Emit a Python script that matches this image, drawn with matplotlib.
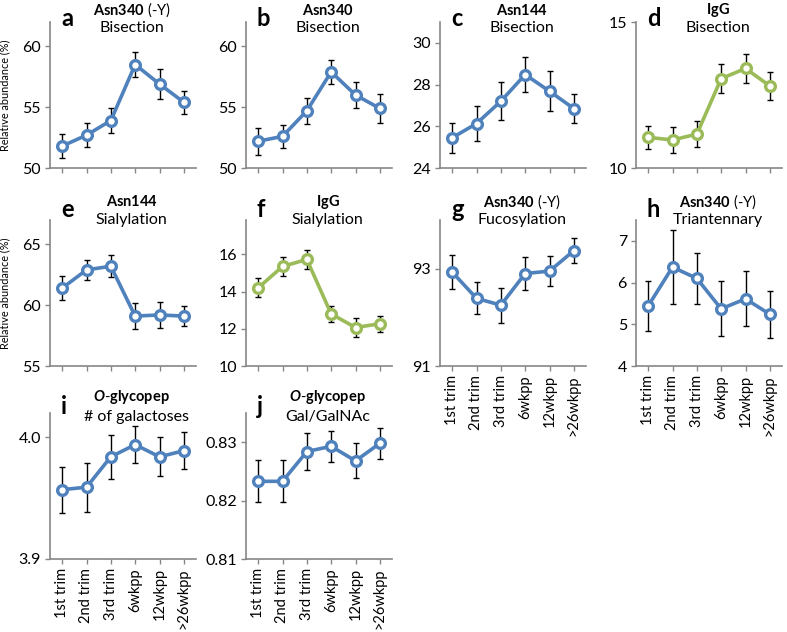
#!/usr/bin/env python3

# %%
# Importing libraries
import numpy as np
from matplotlib import pyplot as plt

# %%
# Data (mean and error bar half-length)
categories = ['1st trim', '2nd trim', '3rd trim', '6wkpp', '12wkpp', '>26wkpp']

a_mean = [51.8, 52.7, 53.9, 58.5, 56.9, 55.4]
a_err = [1.0, 1.0, 1.0, 1.0, 1.2, 0.95]
b_mean = [52.2, 52.6, 54.7, 57.9, 56.0, 54.9]
b_err = [1.1, 0.95, 1.05, 1.0, 1.1, 1.2]
c_mean = [25.45, 26.13, 27.2, 28.48, 27.68, 26.85]
c_err = [0.72, 0.83, 0.9, 0.86, 0.96, 0.7]
d_mean = [11.05, 10.96, 11.16, 13.06, 13.41, 12.81]
d_err = [0.4, 0.46, 0.44, 0.49, 0.49, 0.48]
e_mean = [61.4, 62.9, 63.2, 59.1, 59.2, 59.1]
e_err = [1.0, 0.83, 0.9, 1.05, 1.05, 0.83]
f_mean = [14.2, 15.35, 15.73, 12.8, 12.07, 12.27]
f_err = [0.51, 0.5, 0.52, 0.42, 0.51, 0.44]
g_mean = [92.93, 92.39, 92.25, 92.9, 92.95, 93.37]
g_err = [0.35, 0.33, 0.36, 0.34, 0.31, 0.25]
h_mean = [5.44, 6.37, 6.1, 5.37, 5.61, 5.24]
h_err = [0.59, 0.89, 0.62, 0.66, 0.66, 0.56]
i_mean = [3.957, 3.959, 3.984, 3.994, 3.984, 3.989]
i_err = [0.019, 0.02, 0.018, 0.015, 0.016, 0.015]
j_mean = [0.8233, 0.8233, 0.8284, 0.8293, 0.8268, 0.8298]
j_err = [0.0036, 0.0036, 0.0032, 0.0027, 0.003, 0.0027]

# Panel titles (bold part in mathtext, second line plain)
titles = {
    'a': (r'$\mathbf{Asn340}$ (-Y)', 'Bisection'),
    'b': (r'$\mathbf{Asn340}$', 'Bisection'),
    'c': (r'$\mathbf{Asn144}$', 'Bisection'),
    'd': (r'$\mathbf{IgG}$', 'Bisection'),
    'e': (r'$\mathbf{Asn144}$', 'Sialylation'),
    'f': (r'$\mathbf{IgG}$', 'Sialylation'),
    'g': (r'$\mathbf{Asn340}$ (-Y)', 'Fucosylation'),
    'h': (r'$\mathbf{Asn340}$ (-Y)', 'Triantennary'),
    'i': (r'$\mathbfit{O}$$\mathbf{\text{-}glycopep}$', '# of galactoses'),
    'j': (r'$\mathbfit{O}$$\mathbf{\text{-}glycopep}$', 'Gal/GalNAc'),
}

# %%
# Styling
plt.rcParams['font.family'] = ['Lato', 'DejaVu Sans']
plt.rcParams['mathtext.fontset'] = 'custom'
plt.rcParams['mathtext.rm'] = 'Lato'
plt.rcParams['mathtext.bf'] = 'Lato:bold'
plt.rcParams['mathtext.it'] = 'Lato:italic'
plt.rcParams['mathtext.bfit'] = 'Lato:italic:bold'

blue = '#4F81BD'
green = '#9BBB59'
grey = '#868686'

W, H = 787, 632
fig = plt.figure(figsize=(W / 100, H / 100), dpi=100)

col_left = [50, 246, 440, 636]
row_top = [22, 220, 413]
ax_w, ax_h = 146, 146

# panel: (row, col, mean, err, colour, ylim, yticks, tick format, xlabels)
panels = {
    'a': (0, 0, a_mean, a_err, blue, (50, 62), [50, 55, 60], '%d', False),
    'b': (0, 1, b_mean, b_err, blue, (50, 62), [50, 55, 60], '%d', False),
    'c': (0, 2, c_mean, c_err, blue, (24, 31), [24, 26, 28, 30], '%d', False),
    'd': (0, 3, d_mean, d_err, green, (10, 15), [10, 15], '%d', False),
    'e': (1, 0, e_mean, e_err, blue, (55, 67), [55, 60, 65], '%d', False),
    'f': (1, 1, f_mean, f_err, green, (10, 17.85), [10, 12, 14, 16], '%d', False),
    'g': (1, 2, g_mean, g_err, blue, (91, 94), [91, 93], '%d', True),
    'h': (1, 3, h_mean, h_err, blue, (4, 7.5), [4, 5, 6, 7], '%d', True),
    'i': (2, 0, i_mean, i_err, blue, (3.9, 4.02), [3.9, 4.0], '%.1f', True),
    'j': (2, 1, j_mean, j_err, blue, (0.81, 0.835), [0.81, 0.82, 0.83], '%.2f', True),
}

# vertical offsets of title lines / letter per row (axes fraction)
line1_y = [1.082, 1.124, 1.11]
line2_y = [0.959, 1.0, 0.975]
letter_y = [0.972, 1.02, 0.99]

x = np.arange(len(categories))

for key, (r, c, mean, err, colour, ylim, yticks, fmt, show_x) in panels.items():
    left = col_left[c] / W
    bottom = 1 - (row_top[r] + ax_h) / H
    ax = fig.add_axes([left, bottom, ax_w / W, ax_h / H])

    ax.errorbar(x, mean, yerr=err, fmt='none', ecolor='black', elinewidth=1,
                capsize=2.5, capthick=1, zorder=2)
    ax.plot(x, mean, '-o', color=colour, lw=2.6, ms=7, mew=2.4,
            mfc='white', mec=colour, zorder=3)

    ax.set_xlim(-0.5, len(categories) - 0.5)
    ax.set_ylim(*ylim)
    ax.set_yticks(yticks)
    ax.set_yticklabels([fmt % v for v in yticks], fontsize=11.5)
    ax.set_xticks(x)
    if show_x:
        ax.set_xticklabels(categories, rotation=90, fontsize=10.5)
    else:
        ax.set_xticklabels([])

    for s in ['top', 'right']:
        ax.spines[s].set_visible(False)
    for s in ['left', 'bottom']:
        ax.spines[s].set_color(grey)
        ax.spines[s].set_linewidth(1.2)
    ax.tick_params(direction='out', length=3.5, width=1, color=grey, pad=3)

    # panel letter and two-line title
    ax.text(0.075, letter_y[r], key, transform=ax.transAxes, fontsize=17,
            fontweight='bold', ha='left', va='baseline')
    t1, t2 = titles[key]
    ax.text(0.56, line1_y[r], t1, transform=ax.transAxes, fontsize=10.5,
            ha='center', va='center')
    x2 = 0.59 if key == 'i' else 0.56
    ax.text(x2, line2_y[r], t2, transform=ax.transAxes, fontsize=11.5,
            ha='center', va='center')

    if key in ('a', 'e'):
        ax.set_ylabel('Relative abundance (%)', fontsize=7.8)
        ax.yaxis.set_label_coords(-0.27, 0.5)

fig.savefig('out.png', dpi=100)
